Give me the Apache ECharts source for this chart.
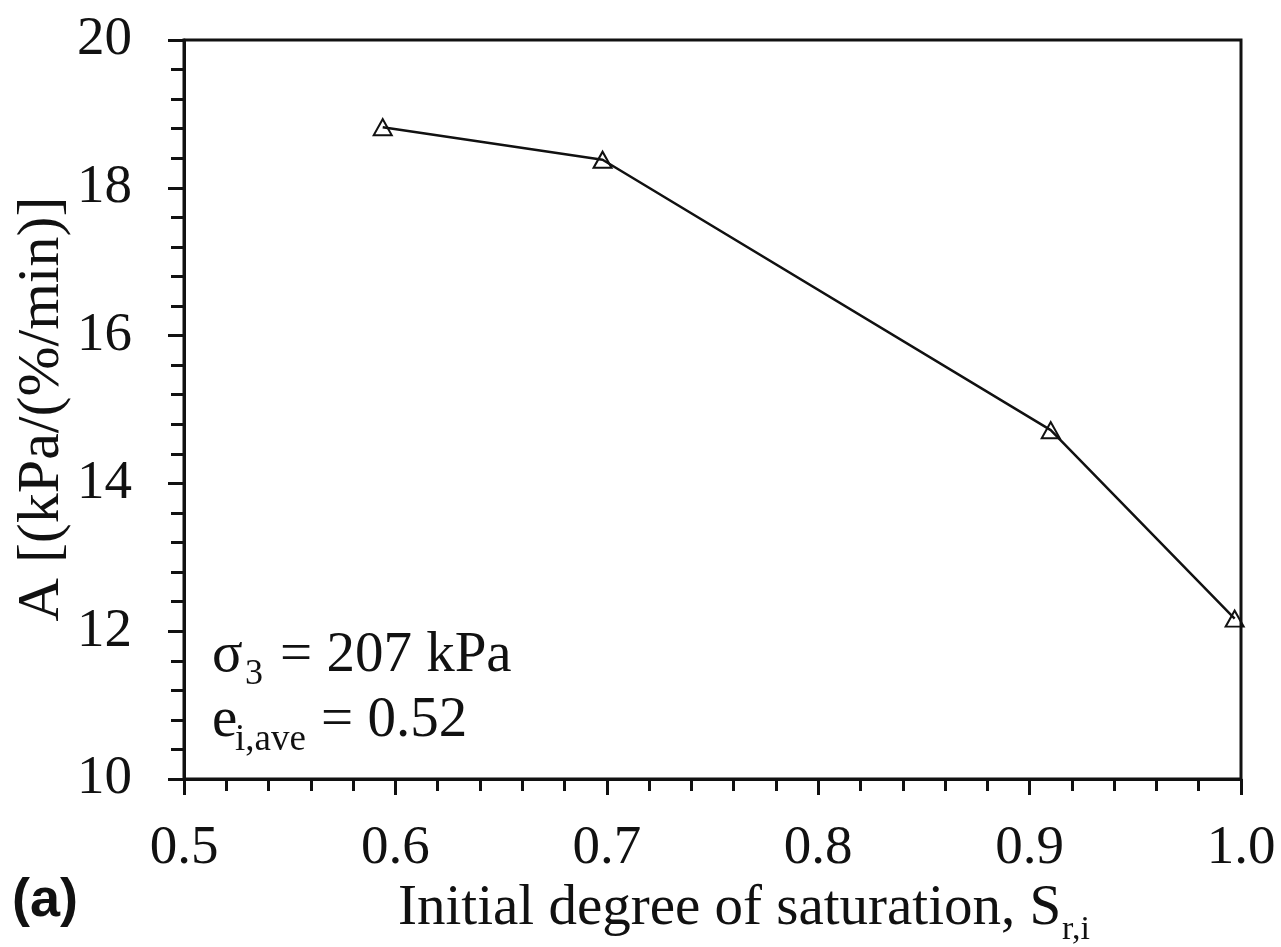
<!DOCTYPE html>
<html>
<head>
<meta charset="utf-8">
<script src="https://cdn.jsdelivr.net/npm/echarts@6/dist/echarts.min.js"></script>
<style>
html,body{margin:0;padding:0;background:#fff;}
#chart{width:1281px;height:947px;}
</style>
</head>
<body>
<div id="chart"></div>
<script>
// Data
var saturation = [0.594, 0.698, 0.910, 0.997];
var aValues = [18.82, 18.38, 14.72, 12.17];
var xTicks = [0.5, 0.6, 0.7, 0.8, 0.9, 1.0];
var yTicks = [10, 12, 14, 16, 18, 20];

var serif = '"Liberation Serif", "Times New Roman", serif';
var ink = '#111';

var points = saturation.map(function (s, i) { return [s, aValues[i]]; });

var chart = echarts.init(document.getElementById('chart'), null, {renderer: 'canvas'});

chart.setOption({
  animation: false,
  backgroundColor: '#fff',
  grid: {left: 184, right: 40, top: 40, bottom: 168, show: true, borderColor: ink, borderWidth: 3, backgroundColor: 'transparent'},
  xAxis: {
    type: 'value', min: xTicks[0], max: xTicks[xTicks.length - 1], interval: 0.1,
    axisLine: {show: true, onZero: false, lineStyle: {color: ink, width: 3}},
    axisTick: {show: true, inside: false, length: 16, lineStyle: {color: ink, width: 3}},
    minorTick: {show: true, splitNumber: 5, length: 12, lineStyle: {color: ink, width: 3}},
    splitLine: {show: false},
    axisLabel: {color: ink, fontFamily: serif, fontSize: 55, margin: 42,
      formatter: function (v) { return v.toFixed(1); }}
  },
  yAxis: {
    type: 'value', min: yTicks[0], max: yTicks[yTicks.length - 1], interval: 2,
    axisLine: {show: true, onZero: false, lineStyle: {color: ink, width: 3}},
    axisTick: {show: true, inside: false, length: 16, lineStyle: {color: ink, width: 3}},
    minorTick: {show: true, splitNumber: 5, length: 13, lineStyle: {color: ink, width: 3}},
    splitLine: {show: false},
    axisLabel: {color: ink, fontFamily: serif, fontSize: 55, margin: 52}
  },
  series: [{
    type: 'line',
    data: points,
    symbol: 'triangle',
    symbolSize: [18, 16],
    lineStyle: {color: ink, width: 2.5},
    itemStyle: {color: 'rgba(255,255,255,0)', borderColor: ink, borderWidth: 2}
  }],
  graphic: [
    {type: 'text', x: 42, y: 409, rotation: Math.PI / 2,
      style: {text: 'A [(kPa/(%/min)]', fill: ink, font: '60px ' + serif, textAlign: 'center', textVerticalAlign: 'middle'}},
    {type: 'text', x: 398, y: 909,
      style: {text: 'Initial degree of saturation, S', fill: ink, font: '57px ' + serif, textAlign: 'left', textVerticalAlign: 'middle'}},
    {type: 'text', x: 1062, y: 930,
      style: {text: 'r,i', fill: ink, font: '34px ' + serif, textAlign: 'left', textVerticalAlign: 'middle'}},
    {type: 'text', x: 212, y: 656,
      style: {text: '\u03c3', fill: ink, font: '57px ' + serif, textAlign: 'left', textVerticalAlign: 'middle'}},
    {type: 'text', x: 245, y: 675,
      style: {text: '3', fill: ink, font: '36px ' + serif, textAlign: 'left', textVerticalAlign: 'middle'}},
    {type: 'text', x: 280, y: 656,
      style: {text: '= 207 kPa', fill: ink, font: '57px ' + serif, textAlign: 'left', textVerticalAlign: 'middle'}},
    {type: 'text', x: 212, y: 721,
      style: {text: 'e', fill: ink, font: '57px ' + serif, textAlign: 'left', textVerticalAlign: 'middle'}},
    {type: 'text', x: 235, y: 740,
      style: {text: 'i,ave', fill: ink, font: '37px ' + serif, textAlign: 'left', textVerticalAlign: 'middle'}},
    {type: 'text', x: 321, y: 721,
      style: {text: '= 0.52', fill: ink, font: '57px ' + serif, textAlign: 'left', textVerticalAlign: 'middle'}},
    {type: 'text', x: 12, y: 901,
      style: {text: '(a)', fill: ink, font: 'bold 54px "Liberation Sans", Arial, sans-serif', textAlign: 'left', textVerticalAlign: 'middle'}}
  ]
});
</script>
</body>
</html>
